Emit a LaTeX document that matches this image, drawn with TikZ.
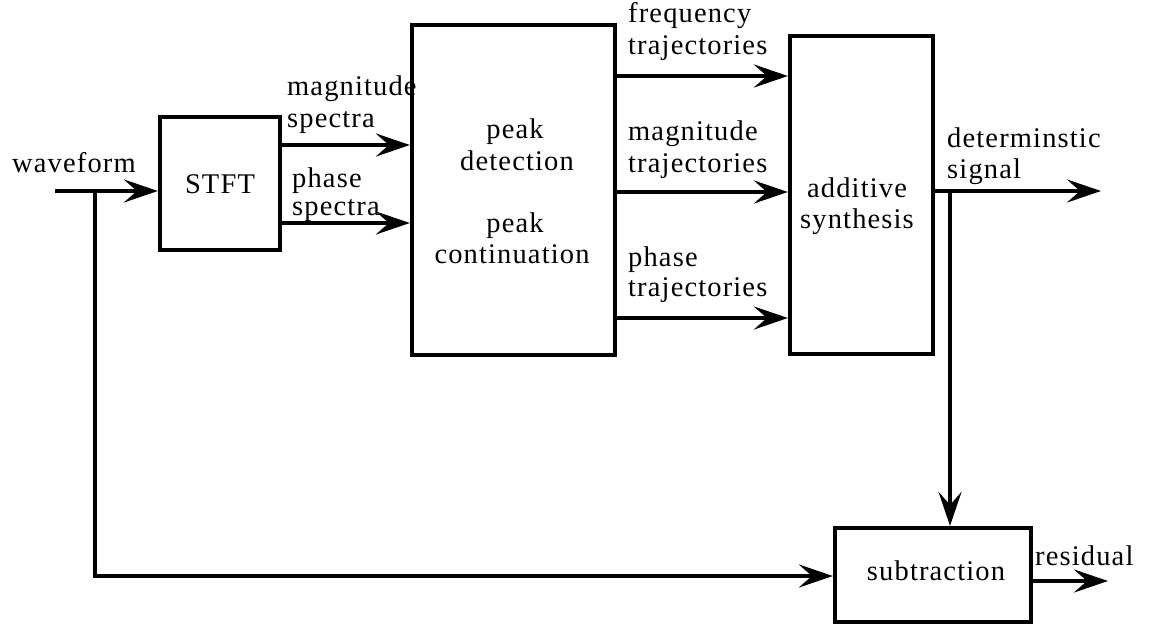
\documentclass[tikz,border=0pt]{standalone}
\usepackage{fontspec}
\setmainfont{Liberation Serif}[LetterSpace=4]
\usetikzlibrary{arrows.meta}
\begin{document}
\begin{tikzpicture}[x=1pt,y=-1pt,
  block/.style={draw, line width=4.2pt, minimum width=#1, inner sep=0pt},
  lbl/.style={anchor=base west, inner sep=0pt, font=\fontsize{28.5}{32}\selectfont},
  clbl/.style={anchor=base, inner sep=0pt, font=\fontsize{28.5}{32}\selectfont},
  flow/.style={line width=3.8pt, -{Stealth[length=34pt,width=23pt,inset=13pt]}},
  wire/.style={line width=3.8pt}]
\useasboundingbox (0,0) rectangle (1155,624);

% processing blocks
\node[block=120pt, minimum height=133pt] (stft) at (220,183.5) {};
\node[block=203pt, minimum height=330pt] (peak) at (513.5,190) {};
\node[block=143pt, minimum height=318pt] (add)  at (861.5,195) {};
\node[block=196pt, minimum height=94pt]  (sub)  at (933,575) {};

% block texts
\node[clbl] (tstft) at (220,193) {STFT};
\node[clbl] (tpk1) at (515,138) {peak};
\node[clbl] (tdet) at (517,170) {detection};
\node[clbl] (tpk2) at (515,232) {peak};
\node[clbl] (tcon) at (512,263) {continuation};
\node[clbl] (tadd) at (857,197) {additive};
\node[clbl] (tsyn) at (857,228) {synthesis};
\node[clbl] (tsub) at (936,580) {subtraction};

% input and its branch to the subtraction
\coordinate (in) at (55,191);
\coordinate (br) at (95,191);
\coordinate (brd) at (95,576);
\draw[flow] (in) -- (in -| stft.west);
\draw[flow] (br) -- (brd) -- (brd -| sub.west);
\node[lbl] (twave) at (12,172) {waveform};

% spectra
\coordinate (ms) at (0,145);
\coordinate (ps) at (0,223);
\draw[flow] (ms -| stft.east) -- (ms -| peak.west);
\draw[flow] (ps -| stft.east) -- (ps -| peak.west);
\node[lbl] (tms1) at (287,95) {magnitude};
\node[lbl] (tms2) at (287,127) {spectra};
\node[lbl] (tps1) at (292,187) {phase};
\node[lbl] (tps2) at (292,215) {spectra};

% trajectories
\coordinate (ft) at (0,76);
\coordinate (mt) at (0,192);
\coordinate (pt) at (0,318);
\draw[flow] (ft -| peak.east) -- (ft -| add.west);
\draw[flow] (mt -| peak.east) -- (mt -| add.west);
\draw[flow] (pt -| peak.east) -- (pt -| add.west);
\node[lbl] (tft1) at (628,22) {frequency};
\node[lbl] (tft2) at (628,54) {trajectories};
\node[lbl] (tmt1) at (628,140) {magnitude};
\node[lbl] (tmt2) at (628,172) {trajectories};
\node[lbl] (tpt1) at (628,266) {phase};
\node[lbl] (tpt2) at (628,296) {trajectories};

% deterministic output and its path to the subtraction
\coordinate (ds) at (0,191);
\coordinate (dend) at (1101,191);
\coordinate (dv) at (950,191);
\draw[flow] (ds -| add.east) -- (dend);
\draw[flow] (dv) -- (dv |- sub.north);
\node[lbl] (tdet1) at (947,147) {determinstic};
\node[lbl] (tdet2) at (947,178) {signal};

% residual
\coordinate (rs) at (0,581);
\coordinate (rend) at (1108,581);
\draw[flow] (rs -| sub.east) -- (rend);
\node[lbl] (tres) at (1035,565) {residual};
\end{tikzpicture}
\end{document}
